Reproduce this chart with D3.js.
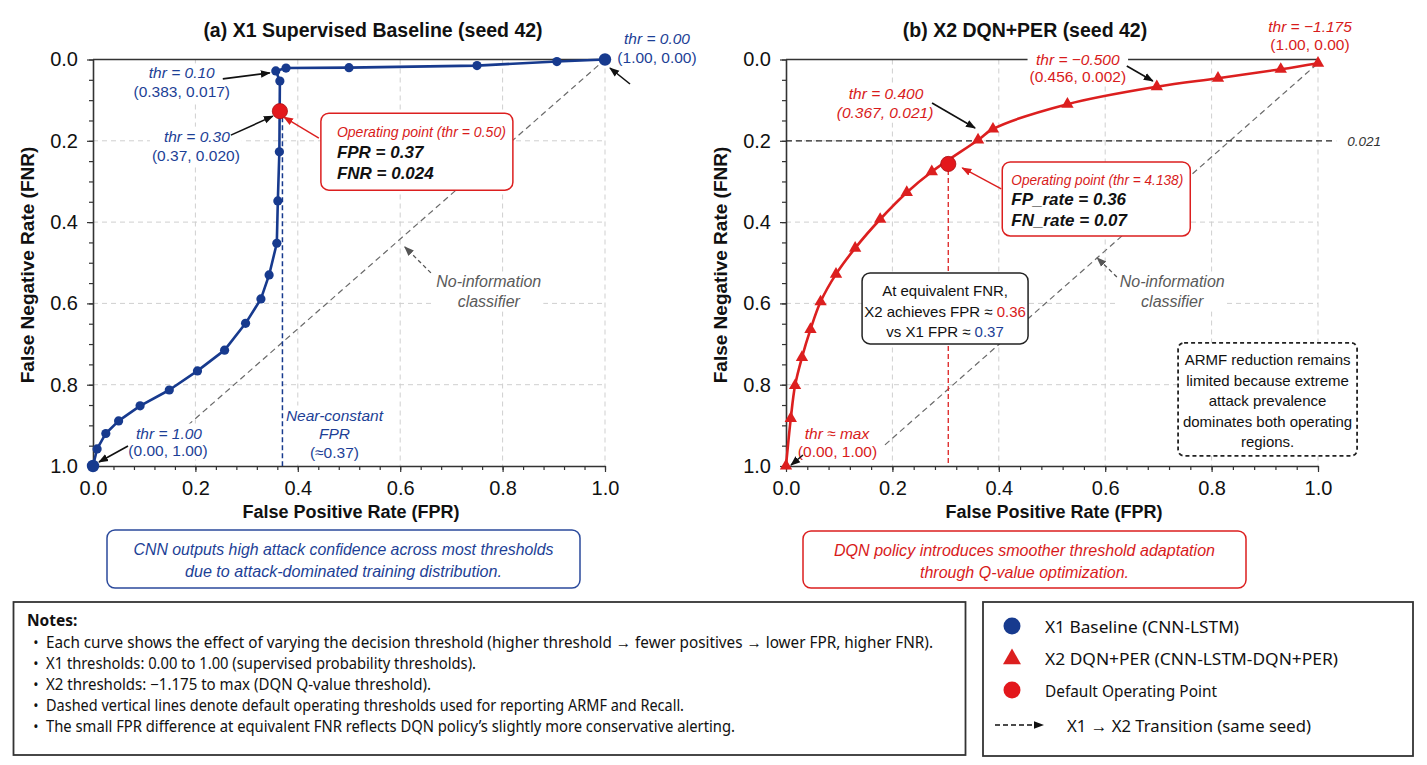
<!DOCTYPE html>
<html><head><meta charset="utf-8">
<script src="https://cdn.jsdelivr.net/npm/d3@7"></script>
<style>body{margin:0;background:#fff} svg{display:block}</style>
</head><body>
<svg id="c" width="1427" height="765"></svg>
<script>
// ---------------- DATA ----------------
const x1FPR = [0.000, 0.008, 0.025, 0.050, 0.092, 0.149, 0.204, 0.257, 0.298, 0.328, 0.344, 0.359, 0.361, 0.364, 0.365, 0.357, 0.377, 0.500, 0.750, 0.906, 1.000];
const x1FNR = [1.000, 0.958, 0.920, 0.889, 0.852, 0.813, 0.766, 0.715, 0.649, 0.589, 0.530, 0.452, 0.348, 0.227, 0.053, 0.028, 0.021, 0.020, 0.015, 0.005, 0.000];
const x2FPR = [0.000, 0.009, 0.017, 0.030, 0.046, 0.065, 0.094, 0.130, 0.177, 0.227, 0.274, 0.361, 0.389, 0.529, 0.697, 0.812, 0.930, 1.000];
const x2FNR = [1.000, 0.883, 0.802, 0.733, 0.664, 0.596, 0.528, 0.464, 0.393, 0.327, 0.276, 0.198, 0.171, 0.110, 0.067, 0.046, 0.024, 0.009];
const opFPR = [0.365, 0.305];      // default operating points (X1, X2)
const opFNR = [0.127, 0.257];
const x1OpLineFPR = 0.37;          // near-constant FPR line
const x2RefFNR = 0.2;              // equivalent FNR reference line
const noInfoX1 = [[0.185, 0.900], [1.000, 0.000]];
const noInfoX2 = [[0.186, 0.948], [1.000, 0.009]];
const majorTicks = [0, 0.2, 0.4, 0.6, 0.8, 1.0];
const minorXTicks = d3.range(0, 1.0001, 0.04);
const minorYTicks = d3.range(0, 1.0001, 0.05);
const titles = ["(a) X1 Supervised Baseline (seed 42)", "(b) X2 DQN+PER (seed 42)"];
const xLabel = "False Positive Rate (FPR)";
const yLabel = "False Negative Rate (FNR)";
const captions = [
  ["CNN outputs high attack confidence across most thresholds", "due to attack-dominated training distribution."],
  ["DQN policy introduces smoother threshold adaptation", "through Q-value optimization."]
];
const notes = [
  "Each curve shows the effect of varying the decision threshold (higher threshold \u2192 fewer positives \u2192 lower FPR, higher FNR).",
  "X1 thresholds: 0.00 to 1.00 (supervised probability thresholds).",
  "X2 thresholds: \u22121.175 to max (DQN Q-value threshold).",
  "Dashed vertical lines denote default operating thresholds used for reporting ARMF and Recall.",
  "The small FPR difference at equivalent FNR reflects DQN policy\u2019s slightly more conservative alerting."
];
const noteWidths = [887, 430, 385, 638, 689];
const legendLabels = ["X1 Baseline (CNN-LSTM)", "X2 DQN+PER (CNN-LSTM-DQN+PER)", "Default Operating Point", "X1 \u2192 X2 Transition (same seed)"];
const legendWidths = [194, 293, 172, 244];
const armfText = ["ARMF reduction remains", "limited because extreme", "attack prevalence", "dominates both operating", "regions."];

// ---------------- STYLE ----------------
const SANS = "'Liberation Sans', Arial, Helvetica, sans-serif";
const HUM = "'Noto Sans', 'Open Sans', 'Liberation Sans', sans-serif";
const BLUE = "#173a8e", BLUE_T = "#1d3f96", RED = "#dc1f1f", RED_T = "#d81b1b", GRAY = "#5a5a5a";

const svg = d3.select("#c");
const defs = svg.append("defs");
function marker(id, color) {
  defs.append("marker").attr("id", id).attr("viewBox", "0 0 10 10")
    .attr("refX", 9).attr("refY", 5).attr("markerWidth", 10).attr("markerHeight", 10)
    .attr("markerUnits", "userSpaceOnUse").attr("orient", "auto")
    .append("path").attr("d", "M0,1.2 L10,5 L0,8.8 Z").attr("fill", color);
}
marker("ahK", "#111"); marker("ahR", RED); marker("ahG", "#555");

function txt(g, x, y, s, o = {}) {
  const t = g.append("text").attr("x", x).attr("y", y).text(s)
    .attr("font-family", o.family || SANS).attr("font-size", o.size || 15)
    .attr("font-weight", o.weight || "normal").attr("font-style", o.style || "normal")
    .attr("fill", o.fill || "#000").attr("text-anchor", o.anchor || "middle")
    .attr("dominant-baseline", "central");
  if (o.len) t.attr("textLength", o.len).attr("lengthAdjust", "spacingAndGlyphs");
  return t;
}
function bgGroup(g) {
  const gg = g.append("g");
  gg.finish = function () {
    const b = gg.node().getBBox();
    gg.insert("rect", ":first-child").attr("x", b.x - 2).attr("y", b.y - 1)
      .attr("width", b.width + 4).attr("height", b.height + 2).attr("fill", "#fff");
  };
  return gg;
}
function arrow(g, x1, y1, x2, y2, col, mk, dash, w) {
  g.append("line").attr("x1", x1).attr("y1", y1).attr("x2", x2).attr("y2", y2)
    .attr("stroke", col).attr("stroke-width", w || 1.6)
    .attr("stroke-dasharray", dash || null).attr("marker-end", `url(#${mk})`);
}

// ---------------- PANELS ----------------
const yScale = d3.scaleLinear().domain([0, 1]).range([59.5, 466]);
const xL = d3.scaleLinear().domain([0, 1]).range([93, 605]);
const xR = d3.scaleLinear().domain([0, 1]).range([786, 1318]);
const ANN = 15.5;

function basePanel(x, y, title, titleX, ylabX) {
  const g = svg.append("g");
  const grid = g.append("g").attr("stroke", "#cfcfcf").attr("stroke-width", 1).attr("stroke-dasharray", "5,4");
  majorTicks.filter(d => d > 0).forEach(d => {
    grid.append("line").attr("x1", x(d)).attr("x2", x(d)).attr("y1", y(0)).attr("y2", y(1));
  });
  majorTicks.filter(d => d > 0 && d < 1).forEach(d => {
    grid.append("line").attr("x1", x(0)).attr("x2", x(1)).attr("y1", y(d)).attr("y2", y(d));
  });
  const ax = g.append("g").attr("transform", `translate(0,${y(1)})`)
    .call(d3.axisBottom(x).tickValues(majorTicks).tickFormat(d3.format(".1f")).tickSize(6).tickSizeOuter(0).tickPadding(9));
  const axm = g.append("g").attr("transform", `translate(0,${y(1)})`)
    .call(d3.axisBottom(x).tickValues(minorXTicks).tickFormat("").tickSize(4).tickSizeOuter(0));
  const ay = g.append("g").attr("transform", `translate(${x(0)},0)`)
    .call(d3.axisLeft(y).tickValues(majorTicks).tickFormat(d3.format(".1f")).tickSize(6).tickSizeOuter(0).tickPadding(9));
  const aym = g.append("g").attr("transform", `translate(${x(0)},0)`)
    .call(d3.axisLeft(y).tickValues(minorYTicks).tickFormat("").tickSize(4).tickSizeOuter(0));
  [axm, aym].forEach(a => a.select(".domain").remove());
  [ax, axm, ay, aym].forEach(a => {
    a.selectAll("line").attr("stroke", "#333").attr("stroke-width", 1.2);
    a.selectAll(".domain").attr("stroke", "#333").attr("stroke-width", 1.6);
    a.selectAll("text").attr("font-family", SANS).attr("font-size", 20).attr("fill", "#111");
  });
  g.append("line").attr("x1", x(0)).attr("x2", x(1)).attr("y1", y(0)).attr("y2", y(0))
    .attr("stroke", "#333").attr("stroke-width", 1.4);
  txt(g, titleX, 30, title, { size: 19.5, weight: "bold", fill: "#111" });
  txt(g, (x(0) + x(1)) / 2 + 2, 512, xLabel, { size: 18, weight: "bold", fill: "#111" });
  txt(g, 0, 0, yLabel, { size: 19, weight: "bold", fill: "#111" })
    .attr("transform", `translate(${ylabX},265) rotate(-90)`);
  return g;
}

// ===== Panel (a) =====
const gA = basePanel(xL, yScale, titles[0], 373, 27);
(function () {
  const x = xL, y = yScale, g = gA;
  const line = d3.line().x(d => x(d[0])).y(d => y(d[1]));
  g.append("path").attr("d", line(noInfoX1)).attr("fill", "none")
    .attr("stroke", "#6a6a6a").attr("stroke-width", 1.2).attr("stroke-dasharray", "6,4");
  g.append("line").attr("x1", x(x1OpLineFPR)).attr("x2", x(x1OpLineFPR))
    .attr("y1", y(opFNR[0]) + 6).attr("y2", y(1))
    .attr("stroke", BLUE).attr("stroke-width", 1.5).attr("stroke-dasharray", "5,3");

  const p10 = [x(x1FPR[15]), y(x1FNR[15])];
  let L = bgGroup(g);
  txt(L, p10[0] - 94, p10[1] + 2, "thr = 0.10", { style: "italic", fill: BLUE_T, size: ANN });
  txt(L, p10[0] - 94, p10[1] + 21, "(0.383, 0.017)", { fill: BLUE_T, size: ANN });
  L.finish();
  const po = [x(opFPR[0]), y(opFNR[0])];
  L = bgGroup(g);
  txt(L, po[0] - 83, po[1] + 25, "thr = 0.30", { style: "italic", fill: BLUE_T, size: ANN });
  txt(L, po[0] - 84, po[1] + 44, "(0.37, 0.020)", { fill: BLUE_T, size: ANN });
  L.finish();
  const pEnd = [x(x1FPR[x1FPR.length - 1]), y(x1FNR[x1FNR.length - 1])];
  L = bgGroup(g);
  txt(L, pEnd[0] + 52, pEnd[1] - 21.5, "thr = 0.00", { style: "italic", fill: BLUE_T, size: ANN });
  txt(L, pEnd[0] + 52, pEnd[1] - 2.5, "(1.00, 0.00)", { fill: BLUE_T, size: ANN });
  L.finish();
  const p0 = [x(x1FPR[0]), y(x1FNR[0])];
  L = bgGroup(g);
  txt(L, p0[0] + 76, p0[1] - 33, "thr = 1.00", { style: "italic", fill: BLUE_T, size: ANN });
  txt(L, p0[0] + 75, p0[1] - 16, "(0.00, 1.00)", { fill: BLUE_T, size: ANN });
  L.finish();
  L = bgGroup(g);
  const nx = x(x1OpLineFPR) + 52;
  txt(L, nx, y(1) - 51, "Near-constant", { style: "italic", fill: BLUE_T, size: ANN });
  txt(L, nx, y(1) - 33, "FPR", { style: "italic", fill: BLUE_T, size: ANN });
  txt(L, nx, y(1) - 14, "(\u22480.37)", { fill: BLUE_T, size: ANN });
  L.finish();
  L = bgGroup(g);
  txt(L, x(0.773), y(0.547), "No-information", { style: "italic", fill: GRAY, size: 16 });
  txt(L, x(0.773), y(0.596), "classifier", { style: "italic", fill: GRAY, size: 16 });
  L.finish();
  arrow(g, x(0.66), y(0.525), x(0.609), y(0.461), "#555", "ahG", "4,3", 1.3);

  const pts = x1FPR.map((f, i) => [f, x1FNR[i]]);
  g.append("path").attr("d", line(pts)).attr("fill", "none").attr("stroke", BLUE).attr("stroke-width", 2.6)
    .attr("stroke-linejoin", "round");
  g.selectAll("circle.x1").data(pts).join("circle").attr("class", "x1")
    .attr("cx", d => x(d[0])).attr("cy", d => y(d[1]))
    .attr("r", (d, i) => (i === 0 || i === pts.length - 1) ? 6.2 : 4.6).attr("fill", BLUE);
  g.append("circle").attr("cx", po[0]).attr("cy", po[1]).attr("r", 7.6).attr("fill", "#e3171c")
    .attr("stroke", "#a80d10").attr("stroke-width", 0.8);

  arrow(g, p10[0] - 53, p10[1] + 8, p10[0] - 6, p10[1] + 2, "#111", "ahK");
  arrow(g, po[0] - 49, po[1] + 24, po[0] - 7, po[1] + 5, "#111", "ahK");
  arrow(g, pEnd[0] + 25, pEnd[1] + 24.5, pEnd[0] + 5, pEnd[1] + 8.5, "#111", "ahK");
  arrow(g, p0[0] + 35, p0[1] - 20, p0[0] + 6, p0[1] - 4, "#111", "ahK");

  g.append("rect").attr("x", po[0] + 41).attr("y", po[1] + 2).attr("width", 192).attr("height", 77)
    .attr("rx", 8).attr("fill", "#fff").attr("stroke", RED).attr("stroke-width", 1.5);
  txt(g, po[0] + 57, po[1] + 20, "Operating point (thr = 0.50)", { anchor: "start", style: "italic", fill: RED_T, size: 15.5, len: 169 });
  txt(g, po[0] + 57, po[1] + 41, "FPR = 0.37", { anchor: "start", style: "italic", weight: "bold", size: 17, fill: "#111" });
  txt(g, po[0] + 57, po[1] + 62, "FNR = 0.024", { anchor: "start", style: "italic", weight: "bold", size: 17, fill: "#111" });
  arrow(g, po[0] + 39, po[1] + 27, po[0] + 4, po[1] + 6, RED, "ahR", null, 1.4);
})();

// ===== Panel (b) =====
const gB = basePanel(xR, yScale, titles[1], 1025, 720);
(function () {
  const x = xR, y = yScale, g = gB;
  const line = d3.line().x(d => x(d[0])).y(d => y(d[1]));
  g.append("path").attr("d", line(noInfoX2)).attr("fill", "none")
    .attr("stroke", "#6a6a6a").attr("stroke-width", 1.2).attr("stroke-dasharray", "6,4");
  g.append("line").attr("x1", x(0)).attr("x2", x(1.034)).attr("y1", y(x2RefFNR)).attr("y2", y(x2RefFNR))
    .attr("stroke", "#222").attr("stroke-width", 1.3).attr("stroke-dasharray", "6,4");
  txt(g, x(1.055), y(x2RefFNR) + 1, "0.021", { anchor: "start", style: "italic", size: 13.5, fill: "#333" });
  const po = [x(opFPR[1]), y(opFNR[1])];
  g.append("line").attr("x1", po[0]).attr("x2", po[0]).attr("y1", po[1] + 6).attr("y2", y(1))
    .attr("stroke", RED).attr("stroke-width", 1.3).attr("stroke-dasharray", "5,3");

  const n = x2FPR.length;
  const p4 = [x(x2FPR[11]), y(x2FNR[11])];
  const p5 = [x(x2FPR[14]), y(x2FNR[14])];
  const pE = [x(x2FPR[n - 1]), y(x2FNR[n - 1])];
  const p0 = [x(x2FPR[0]), y(x2FNR[0])];
  let L = bgGroup(g);
  txt(L, p4[0] - 92, p4[1] - 46, "thr = 0.400", { style: "italic", fill: RED_T, size: ANN });
  txt(L, p4[0] - 93, p4[1] - 27, "(0.367, 0.021)", { style: "italic", fill: RED_T, size: ANN });
  L.finish();
  L = bgGroup(g);
  txt(L, p5[0] - 79, p5[1] - 27.7, "thr = \u22120.500", { style: "italic", fill: RED_T, size: ANN });
  txt(L, p5[0] - 79, p5[1] - 10.7, "(0.456, 0.002)", { fill: RED_T, size: ANN });
  L.finish();
  txt(g, pE[0] - 8, pE[1] - 37, "thr = \u22121.175", { style: "italic", fill: RED_T, size: ANN });
  txt(g, pE[0] - 8, pE[1] - 19, "(1.00, 0.00)", { fill: RED_T, size: ANN });
  L = bgGroup(g);
  txt(L, p0[0] + 51, p0[1] - 33, "thr \u2248 max", { style: "italic", fill: RED_T, size: ANN });
  txt(L, p0[0] + 51.5, p0[1] - 15, "(0.00, 1.00)", { fill: RED_T, size: ANN });
  L.finish();
  L = bgGroup(g);
  txt(L, x(0.726), y(0.547), "No-information", { style: "italic", fill: GRAY, size: 16 });
  txt(L, x(0.726), y(0.596), "classifier", { style: "italic", fill: GRAY, size: 16 });
  L.finish();
  arrow(g, x(0.622), y(0.535), x(0.585), y(0.488), "#555", "ahG", "4,3", 1.3);

  const bx = x(0.143), by = y(0.525);
  g.append("rect").attr("x", bx).attr("y", by).attr("width", 166).attr("height", 71).attr("rx", 8)
    .attr("fill", "#fff").attr("stroke", "#222").attr("stroke-width", 1.5);
  const cx = bx + 83;
  txt(g, cx, by + 18, "At equivalent FNR,", { size: 15, fill: "#111" });
  const t2 = txt(g, cx, by + 38, "", { size: 15, fill: "#111" });
  t2.append("tspan").text("X2 achieves FPR \u2248 ");
  t2.append("tspan").text("0.36").attr("fill", RED_T);
  const t3 = txt(g, cx, by + 58, "", { size: 15, fill: "#111" });
  t3.append("tspan").text("vs X1 FPR \u2248 ");
  t3.append("tspan").text("0.37").attr("fill", BLUE_T);

  const ax0 = x(0.737), ay0 = y(0.697);
  g.append("rect").attr("x", ax0).attr("y", ay0).attr("width", 179).attr("height", 113).attr("rx", 6)
    .attr("fill", "#fff").attr("stroke", "#222").attr("stroke-width", 1.8).attr("stroke-dasharray", "4,3");
  armfText.forEach((s, i) => txt(g, ax0 + 89.5, ay0 + 17 + i * 20.5, s, { size: 15, fill: "#111" }));

  const pts = x2FPR.map((f, i) => [f, x2FNR[i]]);
  g.append("path").attr("d", d3.line().x(d => x(d[0])).y(d => y(d[1])).curve(d3.curveCatmullRom.alpha(0.5))(pts))
    .attr("fill", "none").attr("stroke", RED).attr("stroke-width", 2.6);
  g.selectAll("path.tri").data(pts).join("path").attr("class", "tri")
    .attr("transform", d => `translate(${x(d[0])},${y(d[1])})`)
    .attr("d", d3.symbol(d3.symbolTriangle, 66)).attr("fill", RED);
  g.append("circle").attr("cx", po[0]).attr("cy", po[1]).attr("r", 7.6).attr("fill", "#e3171c")
    .attr("stroke", "#a80d10").attr("stroke-width", 0.8);

  arrow(g, p4[0] - 46, p4[1] - 37, p4[0] - 3, p4[1] - 12, "#111", "ahK");
  arrow(g, p5[0] - 30, p5[1] - 20.7, p5[0] - 4, p5[1] - 5.7, "#111", "ahK");
  arrow(g, p0[0] + 17, p0[1] - 11, p0[0] + 5, p0[1] - 1, "#111", "ahK");

  g.append("rect").attr("x", po[0] + 54).attr("y", po[1] - 2).attr("width", 188).attr("height", 74)
    .attr("rx", 8).attr("fill", "#fff").attr("stroke", RED).attr("stroke-width", 1.5);
  txt(g, po[0] + 63, po[1] + 16, "Operating point (thr = 4.138)", { anchor: "start", style: "italic", fill: RED_T, size: 15.5, len: 172 });
  txt(g, po[0] + 63, po[1] + 36, "FP_rate = 0.36", { anchor: "start", style: "italic", weight: "bold", size: 17, fill: "#111" });
  txt(g, po[0] + 63, po[1] + 57, "FN_rate = 0.07", { anchor: "start", style: "italic", weight: "bold", size: 17, fill: "#111" });
  arrow(g, po[0] + 53, po[1] + 25, po[0] + 14, po[1] + 4, RED, "ahR", null, 1.4);
})();

// ---------------- CAPTIONS ----------------
const capBoxes = [{ x: 107, y: 530, w: 473, h: 58, c: "#2b4a9c", t: BLUE_T, lens: [420, 317] },
                  { x: 803, y: 531, w: 443, h: 57, c: RED, t: RED_T, lens: [381, 209] }];
capBoxes.forEach((b, i) => {
  svg.append("rect").attr("x", b.x).attr("y", b.y).attr("width", b.w).attr("height", b.h).attr("rx", 8)
    .attr("fill", "#fff").attr("stroke", b.c).attr("stroke-width", 1.5);
  captions[i].forEach((s, j) => txt(svg, b.x + b.w / 2, b.y + 19 + j * 22, s,
    { style: "italic", size: 16.5, fill: b.t, len: b.lens[j] }));
});

// ---------------- NOTES ----------------
svg.append("rect").attr("x", 13.5).attr("y", 602).attr("width", 952).attr("height", 153)
  .attr("fill", "#fff").attr("stroke", "#333").attr("stroke-width", 1.8);
txt(svg, 27, 620, "Notes:", { anchor: "start", family: HUM, weight: "bold", size: 15.5, fill: "#111" });
notes.forEach((s, i) => {
  const yy = 642 + i * 21;
  txt(svg, 36, yy, "\u2022", { family: HUM, size: 14, fill: "#111" });
  txt(svg, 46, yy, s, { anchor: "start", family: HUM, size: 15.5, fill: "#111", len: noteWidths[i] });
});

// ---------------- LEGEND ----------------
svg.append("rect").attr("x", 983).attr("y", 602).attr("width", 430).attr("height", 154)
  .attr("fill", "#fff").attr("stroke", "#333").attr("stroke-width", 1.8);
const ly = [626, 658, 690, 725];
svg.append("circle").attr("cx", 1012).attr("cy", ly[0]).attr("r", 8.5).attr("fill", BLUE);
svg.append("path").attr("transform", `translate(1012,${ly[1] + 1})`).attr("d", d3.symbol(d3.symbolTriangle, 140)).attr("fill", RED);
svg.append("circle").attr("cx", 1012).attr("cy", ly[2]).attr("r", 8.5).attr("fill", "#e3171c");
svg.append("line").attr("x1", 995).attr("x2", 1043).attr("y1", ly[3]).attr("y2", ly[3])
  .attr("stroke", "#111").attr("stroke-width", 1.5).attr("stroke-dasharray", "5,3").attr("marker-end", "url(#ahK)");
legendLabels.forEach((s, i) => txt(svg, i === 3 ? 1067 : 1045, ly[i], s,
  { anchor: "start", family: HUM, size: 17, fill: "#111", len: legendWidths[i] }));
</script>
</body></html>
